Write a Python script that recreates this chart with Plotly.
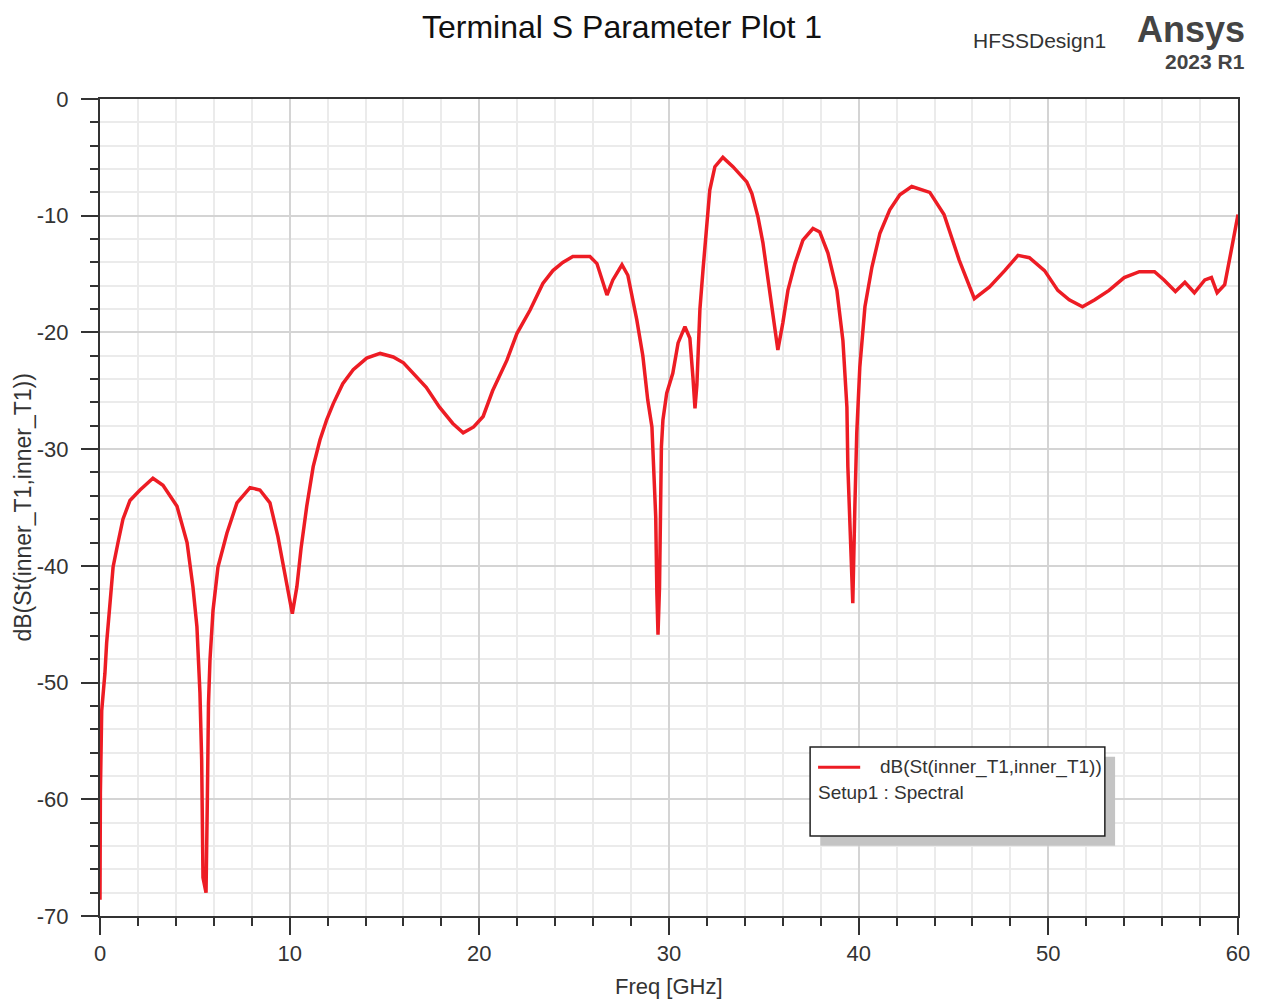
import plotly.graph_objects as go

# S11
freq_ghz = [
    0.00, 0.02, 0.09, 0.26, 0.35, 0.53, 0.69, 0.95, 1.21, 1.58, 2.11, 2.79, 3.32,
    4.06, 4.59, 4.90, 5.11, 5.27, 5.36, 5.43, 5.59, 5.66, 5.72, 5.80, 5.96, 6.22,
    6.69, 7.22, 7.91, 8.43, 8.96, 9.38, 9.86, 10.14, 10.38, 10.60, 10.90, 11.24,
    11.60, 11.95, 12.30, 12.80, 13.35, 14.06, 14.77, 15.46, 16.00, 16.70, 17.20,
    17.90, 18.60, 19.15, 19.70, 20.20, 20.70, 21.45, 21.98, 22.67, 23.35, 23.88,
    24.40, 24.93, 25.83, 26.20, 26.73, 27.04, 27.52, 27.83, 28.30, 28.62, 28.88,
    29.10, 29.20, 29.30, 29.36, 29.42, 29.50, 29.54, 29.60, 29.68, 29.88, 30.20,
    30.48, 30.84, 31.10, 31.26, 31.37, 31.47, 31.52, 31.63, 31.80, 32.00, 32.15,
    32.42, 32.84, 33.37, 34.10, 34.37, 34.69, 34.95, 35.21, 35.48, 35.74, 36.00,
    36.27, 36.64, 37.06, 37.59, 37.95, 38.38, 38.85, 39.17, 39.38, 39.43, 39.54,
    39.69, 39.80, 39.90, 40.06, 40.33, 40.70, 41.12, 41.64, 42.17, 42.80, 43.75,
    44.50, 45.30, 46.10, 46.90, 47.70, 48.40, 49.00, 49.80, 50.50, 51.10, 51.80,
    52.45, 53.20, 54.00, 54.80, 55.60, 56.10, 56.70, 57.20, 57.70, 58.25, 58.60,
    58.90, 59.30, 59.70, 60.00,
]
s11_db = [
    -68.6, -59.5, -52.4, -49.2, -46.6, -43.2, -40.1, -38.0, -36.0, -34.4, -33.5,
    -32.5, -33.1, -34.9, -38.0, -41.8, -45.2, -50.9, -56.6, -66.7, -68.0, -60.0,
    -51.8, -48.0, -43.8, -40.1, -37.2, -34.6, -33.3, -33.5, -34.6, -37.5, -41.8,
    -44.1, -41.8, -38.5, -34.9, -31.5, -29.2, -27.5, -26.1, -24.4, -23.2, -22.2,
    -21.8, -22.1, -22.6, -23.8, -24.7, -26.4, -27.8, -28.6, -28.1, -27.2, -25.0,
    -22.4, -20.1, -18.1, -15.8, -14.7, -14.0, -13.5, -13.5, -14.1, -16.8, -15.5,
    -14.2, -15.1, -18.9, -22.0, -25.8, -28.1, -31.8, -35.8, -42.3, -45.9, -41.8,
    -33.5, -29.8, -27.5, -25.2, -23.5, -20.9, -19.5, -20.5, -23.8, -26.5, -24.5,
    -22.0, -18.0, -14.5, -10.1, -7.8, -5.8, -5.0, -5.8, -7.1, -8.1, -10.1, -12.3,
    -15.5, -18.7, -21.5, -19.2, -16.4, -14.1, -12.1, -11.1, -11.4, -13.2, -16.4,
    -20.7, -26.4, -31.5, -37.2, -43.2, -34.9, -28.6, -23.0, -17.8, -14.4, -11.5,
    -9.5, -8.2, -7.5, -8.0, -9.9, -13.8, -17.1, -16.1, -14.7, -13.4, -13.6, -14.7,
    -16.4, -17.2, -17.8, -17.2, -16.4, -15.3, -14.8, -14.8, -15.5, -16.5, -15.7,
    -16.6, -15.5, -15.3, -16.6, -15.9, -12.5, -9.9,
]

x_ticks = [0, 10, 20, 30, 40, 50, 60]
y_ticks = [0, -10, -20, -30, -40, -50, -60, -70]
y_tick_text = ["0", "-10", "-20", "-30", "-40", "-50", "-60", "-70"]

trace_name = "dB(St(inner_T1,inner_T1))"
setup_name = "Setup1 : Spectral"

red = "#ED1C24"
font = "Liberation Sans, Arial"
txt = "#333333"

fig = go.Figure()
fig.add_trace(go.Scatter(
    x=freq_ghz, y=s11_db, mode="lines", name=trace_name,
    line=dict(color=red, width=3.5), showlegend=False,
))

axis_common = dict(
    showline=True, linecolor="#333333", linewidth=2, mirror=True,
    ticks="outside", ticklen=17, tickwidth=2, tickcolor="#333333",
    showgrid=True, gridcolor="#d4d4d4", gridwidth=1.5, zeroline=False,
    tickfont=dict(family=font, size=22, color=txt),
)
minor = dict(dtick=2, ticklen=8, tickwidth=2, tickcolor="#333333",
             showgrid=True, gridcolor="#ebebeb", gridwidth=1.5)

fig.update_layout(
    width=1261, height=1003,
    paper_bgcolor="white", plot_bgcolor="white",
    margin=dict(l=100, r=23, t=99, b=87),
    xaxis=dict(range=[0, 60], tickvals=x_ticks, minor=minor, **axis_common),
    yaxis=dict(range=[-70, 0], tickvals=y_ticks, ticktext=y_tick_text,
               ticklabelstandoff=8, minor=minor, **axis_common),
    showlegend=False,
)

# legend box with drop shadow, drawn like the HFSS one
fig.add_shape(type="rect", xref="paper", yref="paper", x0=0.633, x1=0.892,
              y0=0.086, y1=0.195, fillcolor="#c4c4c4", line=dict(width=0), layer="above")
fig.add_shape(type="rect", xref="paper", yref="paper", x0=0.624, x1=0.883,
              y0=0.098, y1=0.207, fillcolor="white",
              line=dict(color="#222222", width=1.5), layer="above")
fig.add_shape(type="line", xref="paper", yref="paper", x0=0.631, x1=0.668,
              y0=0.182, y1=0.182, line=dict(color=red, width=3), layer="above")

annotations = [
    dict(text=trace_name, x=0.684, y=0.182, xanchor="left", yanchor="middle",
         font=dict(family=font, size=19, color=txt)),
    dict(text=setup_name, x=0.629, y=0.151, xanchor="left", yanchor="middle",
         font=dict(family=font, size=19, color=txt)),
    dict(text="Freq [GHz]", x=0.5, y=-0.086, xanchor="center", yanchor="middle",
         font=dict(family=font, size=22, color=txt)),
    dict(text=trace_name, x=-0.0685, y=0.5, xanchor="center", yanchor="middle",
         textangle=-90, font=dict(family=font, size=23, color=txt)),
    dict(text="Terminal S Parameter Plot 1", x=0.459, y=1.088,
         xanchor="center", yanchor="middle",
         font=dict(family=font, size=32, color="#111111")),
    dict(text="HFSSDesign1", x=0.826, y=1.071, xanchor="center", yanchor="middle",
         font=dict(family=font, size=21, color=txt)),
    dict(text="<b>Ansys</b>", x=1.008, y=1.085, xanchor="right", yanchor="middle",
         font=dict(family=font, size=36, color="#444444")),
    dict(text="<b>2023 R1</b>", x=1.008, y=1.046, xanchor="right", yanchor="middle",
         font=dict(family=font, size=21, color="#444444")),
]
for a in annotations:
    fig.add_annotation(xref="paper", yref="paper", showarrow=False, **a)

# drop the default page margin so the figure sits at the window's top-left
fig.write_html("out.html", config={"displayModeBar": False},
               post_script="document.body.style.margin='0px';")
